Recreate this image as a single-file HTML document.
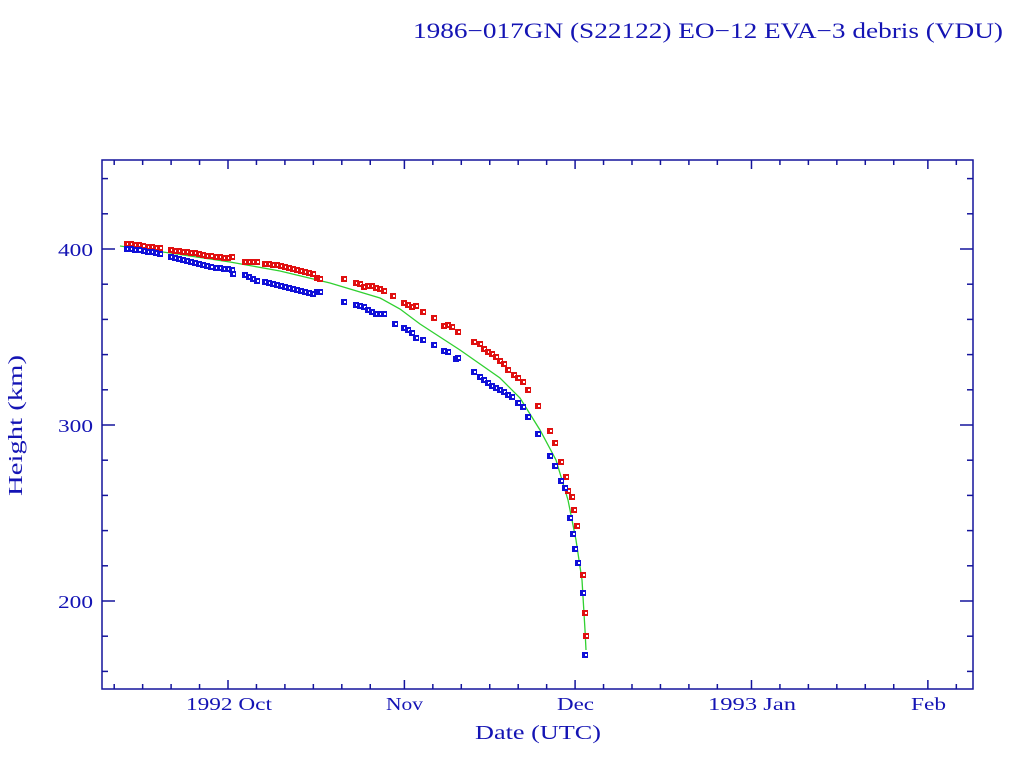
<!DOCTYPE html>
<html><head><meta charset="utf-8"><style>html,body{margin:0;padding:0;background:#fff;}svg{display:block}</style></head>
<body>
<svg id="s" width="1024" height="768" xmlns="http://www.w3.org/2000/svg" font-family="Liberation Serif, serif" fill="#1414b4">
<text x="413" y="38" font-size="22" textLength="590" lengthAdjust="spacingAndGlyphs">1986−017GN (S22122) EO−12 EVA−3 debris (VDU)</text>
<rect x="102" y="160" width="871" height="529" fill="none" stroke="#14149c" stroke-width="1.5"/>
<g id="ticks" stroke="#14149c" stroke-width="1.5"></g>
<g font-size="18">
<text x="186" y="710" textLength="86" lengthAdjust="spacingAndGlyphs">1992 Oct</text>
<text x="386" y="710" textLength="37" lengthAdjust="spacingAndGlyphs">Nov</text>
<text x="557" y="710" textLength="37" lengthAdjust="spacingAndGlyphs">Dec</text>
<text x="708" y="710" textLength="88" lengthAdjust="spacingAndGlyphs">1993 Jan</text>
<text x="911" y="710" textLength="35" lengthAdjust="spacingAndGlyphs">Feb</text>
<text x="58" y="256" textLength="35" lengthAdjust="spacingAndGlyphs">400</text>
<text x="58" y="432" textLength="35" lengthAdjust="spacingAndGlyphs">300</text>
<text x="58" y="608" textLength="35" lengthAdjust="spacingAndGlyphs">200</text>
<text x="475" y="739" font-size="20" textLength="126" lengthAdjust="spacingAndGlyphs">Date (UTC)</text>
<text transform="translate(22,496) rotate(-90)" font-size="20" textLength="141" lengthAdjust="spacingAndGlyphs">Height (km)</text>
</g>
<polyline fill="none" stroke="#30d030" stroke-width="1.3" points="120,246 170,253 230,262 280,271 330,283 380,298 400,309 420,324 460,350 500,378 520,398 540,430 556,460 568,500 576,540 582,580 585,630 586,650"/>
<g id="pts"></g>
</svg>
<script>
var NS="http://www.w3.org/2000/svg",t=document.getElementById('ticks');
function L(x1,y1,x2,y2){var l=document.createElementNS(NS,'line');l.setAttribute('x1',x1);l.setAttribute('y1',y1);l.setAttribute('x2',x2);l.setAttribute('y2',y2);t.appendChild(l);}
function dx(d){return 228+d*5.69;}
var months=[[-30,30],[0,31],[31,30],[61,31],[92,31],[123,28]];
months.forEach(function(m,i){var s=m[0];if(i>0){var x=dx(s);if(x>102&&x<973){L(x,689,x,680);L(x,160,x,169);}}
 [5,10,15,20,25].forEach(function(k){var x=dx(s+k);if(x>102&&x<973){L(x,689,x,684);L(x,160,x,165);}});});
for(var h=160;h<=440;h+=20){var y=249+(400-h)*1.76;var len=(h%100==0)?13:6;L(102,y,102+len,y);L(973,y,973-len,y);}
var red=[[127,244],[131,244],[135,245],[139,245],[143,246],[148,247],[152,247],[156,248],[160,248],[171,250],[175,251],[179,251],[183,252],[187,252],[191,253],[195,253],[199,254],[203,255],[207,256],[211,256],[216,257],[220,257],[224,258],[228,258],[232,257],[245,262],[249,262],[253,262],[257,262],[265,264],[269,264],[273,265],[277,265],[281,266],[285,267],[289,268],[293,269],[297,270],[301,271],[305,272],[309,273],[313,274],[317,278],[320,279],[344,279],[356,283],[360,284],[364,287],[368,286],[372,286],[376,288],[380,289],[384,291],[393,296],[404,303],[408,305],[412,307],[416,306],[423,312],[434,318],[444,326],[448,325],[452,327],[458,332],[474,342],[480,344],[484,349],[488,352],[492,354],[496,357],[500,361],[504,364],[508,370],[514,375],[518,378],[523,382],[528,390],[538,406],[550,431],[555,443],[561,462],[566,477],[568,491],[572,497],[574,510],[577,526],[583,575],[585,613],[586,636]];
var blue=[[127,249],[131,249],[135,250],[139,250],[144,251],[148,252],[152,252],[156,253],[160,254],[171,257],[175,258],[179,259],[183,260],[187,261],[191,262],[195,263],[199,264],[203,265],[207,266],[211,267],[216,268],[220,268],[224,269],[228,269],[232,270],[233,274],[245,275],[249,277],[253,279],[257,281],[265,282],[269,283],[273,284],[277,285],[281,286],[285,287],[289,288],[293,289],[297,290],[301,291],[305,292],[309,293],[313,294],[317,292],[320,292],[344,302],[356,305],[360,306],[364,307],[368,310],[372,312],[376,314],[380,314],[384,314],[395,324],[404,328],[408,330],[412,333],[416,338],[423,340],[434,345],[444,351],[448,352],[456,359],[458,358],[474,372],[480,377],[484,380],[488,383],[492,386],[496,388],[500,390],[504,392],[508,395],[512,397],[518,403],[523,407],[528,417],[538,434],[550,456],[555,466],[561,481],[565,488],[570,518],[573,534],[575,549],[578,563],[583,593],[585,655]];
var g=document.getElementById('pts');
function P(a,c){a.forEach(function(p){var r=document.createElementNS(NS,'rect');r.setAttribute('x',p[0]-3);r.setAttribute('y',p[1]-3);r.setAttribute('width',6);r.setAttribute('height',6);r.setAttribute('fill',c);g.appendChild(r);
var w=document.createElementNS(NS,'rect');w.setAttribute('x',p[0]);w.setAttribute('y',p[1]-1);w.setAttribute('width',2);w.setAttribute('height',2);w.setAttribute('fill','#fff');g.appendChild(w);});}
P(red,'#e01010');P(blue,'#1010d8');
</script>
</body></html>
